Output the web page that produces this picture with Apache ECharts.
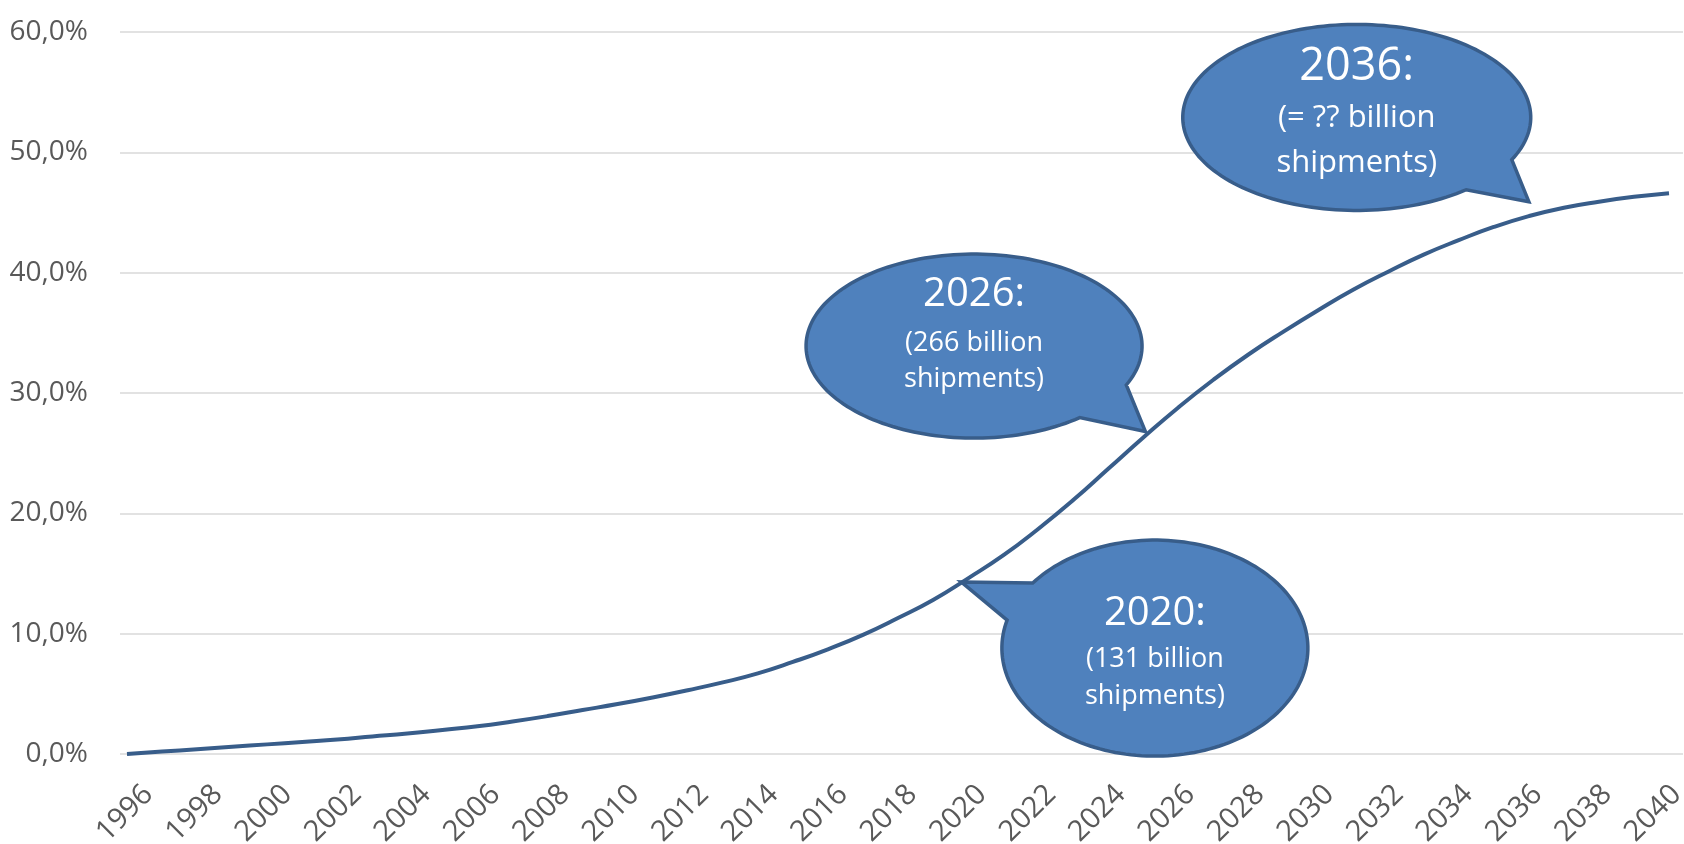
<!DOCTYPE html>
<html>
<head>
<meta charset="utf-8">
<script src="https://cdn.jsdelivr.net/npm/echarts@6/dist/echarts.min.js"></script>
<style>
html,body{margin:0;padding:0;background:#ffffff;}
#chart{width:1684px;height:844px;}
</style>
</head>
<body>
<div id="chart"></div>
<script>
// ---- data ----
const years = ['1996','1997','1998','1999','2000','2001','2002','2003','2004','2005',
  '2006','2007','2008','2009','2010','2011','2012','2013','2014','2015',
  '2016','2017','2018','2019','2020','2021','2022','2023','2024','2025',
  '2026','2027','2028','2029','2030','2031','2032','2033','2034','2035',
  '2036','2037','2038','2039','2040'];
const shareValues = [0.0,0.2,0.4,0.6,0.8,1.0,1.2,1.45,1.7,2.0,
  2.3,2.7,3.15,3.65,4.15,4.7,5.3,5.95,6.7,7.65,
  8.7,9.9,11.3,12.8,14.6,16.5,18.7,21.1,23.7,26.3,
  28.8,31.1,33.2,35.1,36.9,38.6,40.1,41.5,42.7,43.8,
  44.7,45.4,45.9,46.3,46.6];
const yMin = 0, yMax = 60, yStep = 10;

// callouts: tip and ellipse centre in data space (year, %)
const callouts = [
  {title:'2020:', lines:['(131 billion','shipments)'], tip:[2019.8,14.3], center:[2025.33,8.8],
   rx:153, ry:108, a1:195, a2:217, big:40, small:27, offs:[-34,11,48]},
  {title:'2026:', lines:['(266 billion','shipments)'], tip:[2025.06,26.8], center:[2020.17,33.9],
   rx:168, ry:92, a1:26, a2:51, big:40, small:27, offs:[-51,-3,33]},
  {title:'2036:', lines:['(= ?? billion','shipments)'], tip:[2036.0,45.9], center:[2031.09,52.9],
   rx:174, ry:93, a1:28, a2:51, big:45, small:31, offs:[-50,1,46]}
];

const FONT = '"Open Sans", "Noto Sans", sans-serif';
const chart = echarts.init(document.getElementById('chart'));

const gridBase = {top:32, bottom:90, containLabel:false, outerBoundsMode:'none'};
chart.setOption({
  animation:false,
  backgroundColor:'#ffffff',
  grid:[
    Object.assign({left:120, right:1}, gridBase),
    Object.assign({left:127, right:15}, gridBase),
    Object.assign({left:131, width:1563}, gridBase)
  ],
  xAxis:[
    {type:'category', gridIndex:0, data:years, show:false},
    {type:'category', gridIndex:1, data:years, boundaryGap:false, show:false},
    {type:'category', gridIndex:2, data:years, boundaryGap:true,
     axisLine:{show:false}, axisTick:{show:false},
     axisLabel:{interval:1, rotate:45, margin:36, color:'#595959', fontSize:29, fontFamily:FONT, hideOverlap:false}}
  ],
  yAxis:[
    {type:'value', gridIndex:0, min:yMin, max:yMax, interval:yStep,
     axisLine:{show:false}, axisTick:{show:false},
     splitLine:{lineStyle:{color:'#D9D9D9', width:1.5}},
     axisLabel:{margin:32, color:'#595959', fontSize:28, fontFamily:FONT,
       formatter: v => v.toFixed(1).replace('.', ',') + '%'}},
    {type:'value', gridIndex:1, min:yMin, max:yMax, interval:yStep, show:false, splitLine:{show:false}},
    {type:'value', gridIndex:2, min:yMin, max:yMax, interval:yStep, show:false, splitLine:{show:false}}
  ],
  series:[{
    type:'line', xAxisIndex:1, yAxisIndex:1, data:shareValues,
    smooth:true, symbol:'none', z:3,
    lineStyle:{color:'#385D8A', width:4}
  }]
});

// convert data coords to pixels via the line's axes
const p0 = chart.convertToPixel({xAxisIndex:1, yAxisIndex:1}, [0, yMin]);
const p1 = chart.convertToPixel({xAxisIndex:1, yAxisIndex:1}, [years.length-1, yMax]);
function toPx(year, val){
  const idx = year - Number(years[0]);
  return [p0[0] + idx/(years.length-1)*(p1[0]-p0[0]), p0[1] + (val-yMin)/(yMax-yMin)*(p1[1]-p0[1])];
}

const graphics = [];
callouts.forEach(c => {
  const tip = toPx(c.tip[0], c.tip[1]);
  const ctr = toPx(c.center[0], c.center[1]);
  const pts = [tip];
  for (let a = c.a2; a <= c.a1 + 360 + 0.01; a += 2) {
    const r = a * Math.PI / 180;
    pts.push([ctr[0] + c.rx*Math.cos(r), ctr[1] + c.ry*Math.sin(r)]);
  }
  graphics.push({type:'polygon', z:10, shape:{points:pts},
    style:{fill:'#4F81BD', stroke:'#385D8A', lineWidth:3.5, lineJoin:'miter'}});
  graphics.push({type:'text', z:11, x:ctr[0], y:ctr[1]+c.offs[0],
    style:{text:c.title, fill:'#ffffff', font:c.big+'px '+FONT, align:'center', verticalAlign:'middle'}});
  c.lines.forEach((t,i) => {
    graphics.push({type:'text', z:11, x:ctr[0], y:ctr[1]+c.offs[i+1],
      style:{text:t, fill:'#ffffff', font:c.small+'px '+FONT, align:'center', verticalAlign:'middle'}});
  });
});
chart.setOption({graphic:graphics});
</script>
</body>
</html>
